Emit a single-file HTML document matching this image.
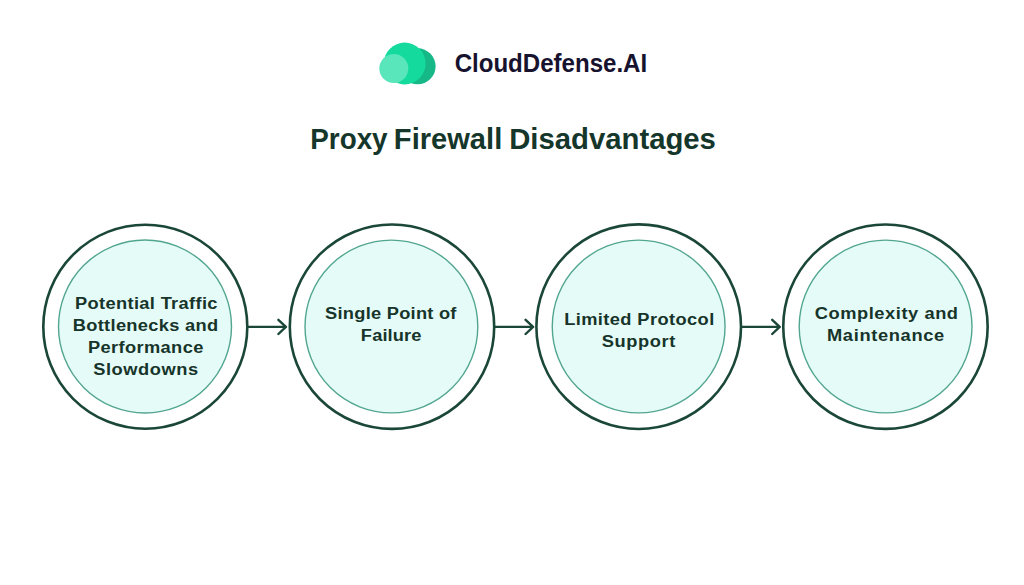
<!DOCTYPE html>
<html>
<head>
<meta charset="utf-8">
<style>
html,body{margin:0;padding:0;background:#ffffff;}
body{width:1024px;height:585px;overflow:hidden;position:relative;}
svg{position:absolute;left:0;top:0;}
text{font-family:"Liberation Sans",sans-serif;font-weight:bold;}
</style>
</head>
<body>
<svg width="1024" height="585" viewBox="0 0 1024 585">
  <circle cx="417.6" cy="66.3" r="18" fill="#16b887"/>
  <circle cx="404.7" cy="63.5" r="20.9" fill="#14da9d"/>
  <circle cx="393.8" cy="68.6" r="14.5" fill="#58e6ba"/>
  <g stroke="#1a4738" stroke-width="2.6" fill="#ffffff">
    <circle cx="145.3" cy="326.7" r="102"/>
    <circle cx="392" cy="326.7" r="102.2"/>
    <circle cx="638.7" cy="326.7" r="102.3"/>
    <circle cx="885.45" cy="326.7" r="102.2"/>
  </g>
  <g stroke="#52a690" stroke-width="1.4" fill="#e4fbf7">
    <circle cx="145" cy="326.5" r="86.5"/>
    <circle cx="391.4" cy="326.5" r="86.4"/>
    <circle cx="638.65" cy="326.5" r="86.4"/>
    <circle cx="885.6" cy="326.5" r="86.4"/>
  </g>
  <g stroke="#1a4738" stroke-width="2.4" fill="none" stroke-linecap="round" stroke-linejoin="round">
    <path d="M247.3 326.9 H285.8 M278.4 319.8 L285.9 326.9 L278.4 334"/>
    <path d="M494.5 326.9 H533 M525.6 319.8 L533.1 326.9 L525.6 334"/>
    <path d="M741.2 326.9 H779.6 M772.2 319.8 L779.7 326.9 L772.2 334"/>
  </g>
  <text x="454.64" y="71.80" font-size="25.0" fill="#17122e" textLength="192.52" lengthAdjust="spacingAndGlyphs">CloudDefense.AI</text>
  <text x="310.24" y="149.40" font-size="30.0" fill="#15362a" textLength="77.38" lengthAdjust="spacingAndGlyphs">Proxy</text>
  <text x="393.86" y="149.40" font-size="30.0" fill="#15362a" textLength="108.36" lengthAdjust="spacingAndGlyphs">Firewall</text>
  <text x="509.20" y="149.40" font-size="30.0" fill="#15362a" textLength="206.72" lengthAdjust="spacingAndGlyphs">Disadvantages</text>
  <text transform="matrix(1.05,0,0,1,-3.755,0)" x="75.09" y="308.60" font-size="17.4" fill="#17342a" textLength="135.59" lengthAdjust="spacing">Potential Traffic</text>
  <text transform="matrix(1.05,0,0,1,-3.637,0)" x="72.74" y="330.80" font-size="17.4" fill="#17342a" textLength="138.55" lengthAdjust="spacing">Bottlenecks and</text>
  <text transform="matrix(1.05,0,0,1,-4.401,0)" x="88.02" y="353.10" font-size="17.4" fill="#17342a" textLength="109.81" lengthAdjust="spacing">Performance</text>
  <text transform="matrix(1.05,0,0,1,-4.658,0)" x="93.16" y="375.30" font-size="17.4" fill="#17342a" textLength="99.92" lengthAdjust="spacing">Slowdowns</text>
  <text transform="matrix(1.05,0,0,1,-16.255,0)" x="325.09" y="318.60" font-size="17.4" fill="#17342a" textLength="125.08" lengthAdjust="spacing">Single Point of</text>
  <text transform="matrix(1.05,0,0,1,-18.044,0)" x="360.88" y="340.60" font-size="17.4" fill="#17342a" textLength="57.70" lengthAdjust="spacing">Failure</text>
  <text transform="matrix(1.05,0,0,1,-28.208,0)" x="564.16" y="325.00" font-size="17.4" fill="#17342a" textLength="142.95" lengthAdjust="spacing">Limited Protocol</text>
  <text transform="matrix(1.05,0,0,1,-30.084,0)" x="601.68" y="347.20" font-size="17.4" fill="#17342a" textLength="70.23" lengthAdjust="spacing">Support</text>
  <text transform="matrix(1.05,0,0,1,-40.739,0)" x="814.78" y="318.60" font-size="17.4" fill="#17342a" textLength="136.42" lengthAdjust="spacing">Complexity and</text>
  <text transform="matrix(1.05,0,0,1,-41.349,0)" x="826.98" y="340.80" font-size="17.4" fill="#17342a" textLength="111.62" lengthAdjust="spacing">Maintenance</text>
</svg>
</body>
</html>
